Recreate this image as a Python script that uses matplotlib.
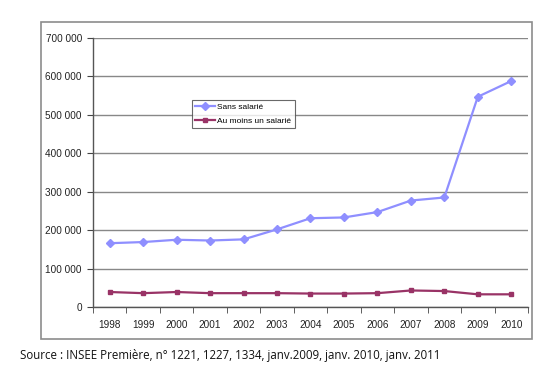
import numpy as np
import matplotlib
matplotlib.use("Agg")
import matplotlib.pyplot as plt
from matplotlib.patches import Rectangle
from matplotlib.ticker import FuncFormatter

# effectifs par annee
years = ["1998", "1999", "2000", "2001", "2002", "2003", "2004",
         "2005", "2006", "2007", "2008", "2009", "2010"]
sans_salarie = [166000, 169000, 175000, 173000, 176000, 202000, 231000,
                233000, 247000, 277000, 285000, 547000, 588000]
au_moins_un = [39000, 36000, 39000, 36000, 36000, 36000, 35000,
               35000, 36000, 43000, 41500, 33000, 33000]

plt.rcParams['font.family'] = ['Liberation Sans', 'DejaVu Sans']

fig = plt.figure(figsize=(5.59, 3.76), dpi=100)
ax = fig.add_axes([0.1664, 0.1835, 0.9445 - 0.1664, 0.899 - 0.1835])

# cadre exterieur
fig.patches.append(Rectangle((41 / 559, 1 - 339 / 376), (532 - 41) / 559, (339 - 22) / 376,
                             transform=fig.transFigure, fill=False,
                             edgecolor="#8c8c8c", linewidth=1.2))

x = np.arange(len(years))
ax.plot(x, sans_salarie, color="#8f8fff", marker="D", markersize=4.5,
        linewidth=1.6, label="Sans salarié", zorder=3)
ax.plot(x, au_moins_un, color="#993366", marker="s", markersize=3.5,
        linewidth=1.6, label="Au moins un salarié", zorder=3)

ax.set_xlim(-0.5, len(years) - 0.5)
ax.set_ylim(0, 700000)
ax.set_yticks(np.arange(0, 700001, 100000))
ax.yaxis.set_major_formatter(FuncFormatter(lambda v, p: f"{int(v):,}".replace(",", " ")))
ax.set_xticks(x)
ax.set_xticklabels(years)
ax.set_xticks(np.arange(-0.5, len(years), 1), minor=True)
ax.tick_params(axis="x", which="major", length=0, pad=9, labelsize=7.2, colors="#222222")
ax.tick_params(axis="x", which="minor", length=4, color="#444444", direction="out")
ax.tick_params(axis="y", length=4, color="#444444", labelsize=7.2, colors="#222222", pad=4)

ax.grid(axis="y", color="#888888", linewidth=1.0)
ax.set_axisbelow(True)
for s in ["top", "right"]:
    ax.spines[s].set_visible(False)
for s in ["left", "bottom"]:
    ax.spines[s].set_color("#555555")
    ax.spines[s].set_linewidth(1.0)

leg = ax.legend(loc="upper left", bbox_to_anchor=(0.227, 0.77), fontsize=6.0,
                frameon=True, fancybox=False, borderpad=0.4, handlelength=2.4,
                handletextpad=0.25, labelspacing=0.7, borderaxespad=0)
leg.get_frame().set_edgecolor("#444444")
leg.get_frame().set_linewidth(0.8)

fig.text(20 / 559, 1 - 355 / 376,
         "Source : INSEE Première, n° 1221, 1227, 1334, janv.2009, janv. 2010, janv. 2011",
         fontsize=8.3, family=["Open Sans", "DejaVu Sans"], va="center", ha="left", color="#111111")

fig.savefig("out.png", dpi=100)
